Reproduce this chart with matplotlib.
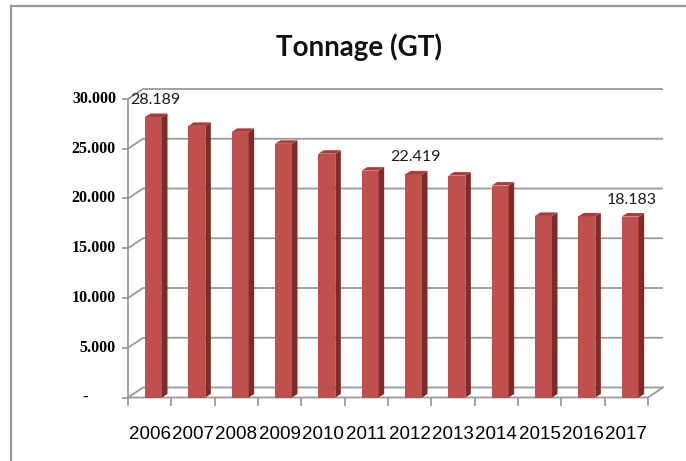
import matplotlib
matplotlib.use('Agg')
import matplotlib.pyplot as plt
from matplotlib.patches import Polygon
from matplotlib.lines import Line2D

# ---- data ----
years = ['2006', '2007', '2008', '2009', '2010', '2011',
         '2012', '2013', '2014', '2015', '2016', '2017']
tonnage = [28189, 27300, 26700, 25500, 24500, 22800,
           22419, 22300, 21300, 18250, 18200, 18183]
yticks = [0, 5000, 10000, 15000, 20000, 25000, 30000]
ytick_labels = ['-', '5.000', '10.000', '15.000', '20.000', '25.000', '30.000']
data_labels = {0: '28.189', 6: '22.419', 11: '18.183'}
title = 'Tonnage (GT)'

# ---- layout (pixels) ----
W, H = 686, 461
fig = plt.figure(figsize=(W / 100, H / 100), dpi=100)
fig.patch.set_facecolor('white')
L, R, B, T = 128, 648, 397.5, 99
ax = fig.add_axes([L / W, 1 - B / H, (R - L) / W, (B - T) / H])
n = len(years)
ax.set_xlim(0, n)
ax.set_ylim(0, yticks[-1])
ax.axis('off')

sx = n / (R - L)            # data units per pixel (x)
sy = yticks[-1] / (B - T)   # data units per pixel (y)
DX, DY = 15 * sx, 10 * sy   # wall depth

grid_c = '#9a9a9a'
lw = 1.3
# back wall gridlines + side wall diagonals
for v in yticks:
    ax.plot([0, DX, n + DX], [v, v + DY, v + DY], color=grid_c, lw=lw,
            clip_on=False, solid_capstyle='butt')
    ax.plot([-5 * sx, 0], [v, v], color=grid_c, lw=lw, clip_on=False)
# front vertical axis
ax.plot([0, 0], [0, yticks[-1]], color=grid_c, lw=lw, clip_on=False)
# floor front edge + right edge
ax.plot([0, n, n + DX], [0, 0, DY], color=grid_c, lw=lw, clip_on=False)
# x ticks
for i in range(n + 1):
    ax.plot([i, i], [0, -7 * sy], color=grid_c, lw=lw, clip_on=False)

# ---- 3D bars ----
front_c = '#C0504D'
side_c = '#7E2B29'
top_c = '#A3403D'
bw = 17 * sx
off = 17 * sx
bx, by = 5.5 * sx, 3.5 * sy
xs = [i + off for i in range(n)]
ax.bar(xs, tonnage, width=bw, align='edge', color=front_c, zorder=3,
       linewidth=0)
for x, v in zip(xs, tonnage):
    side = Polygon([(x + bw, 0), (x + bw + bx, by), (x + bw + bx, v + by),
                    (x + bw, v)], closed=True, facecolor=side_c,
                   edgecolor='none', zorder=3, clip_on=False)
    top = Polygon([(x, v), (x + bw, v), (x + bw + bx, v + by), (x + bx, v + by)],
                  closed=True, facecolor=top_c, edgecolor='none', zorder=3,
                  clip_on=False)
    ax.add_patch(side)
    ax.add_patch(top)

# data labels
for i, lab in data_labels.items():
    ax.text(xs[i] + bw / 2 + 2 * sx, tonnage[i] + 17 * sy, lab,
            ha='center', va='center', fontsize=11.5, family=['Lato', 'DejaVu Sans'],
            color='#1a1a1a', zorder=5, clip_on=False)

# y tick labels
for v, lab in zip(yticks, ytick_labels):
    if lab == '-':
        ax.text(-43 * sx, v, lab, ha='center', va='center', fontsize=12,
                family=['Liberation Serif', 'DejaVu Serif'], color='#000000',
                fontweight='bold')
    else:
        ax.text(-12 * sx, v, lab, ha='right', va='center', fontsize=11.5,
                family=['Liberation Serif', 'DejaVu Serif'], color='#000000',
                fontweight='bold')

# x tick labels
for i, lab in enumerate(years):
    ax.text(i + 0.5, -36.5 * sy, lab, ha='center', va='center', fontsize=13.5,
            family=['Liberation Sans', 'DejaVu Sans'], color='#000000')

# title
fig.text(359 / W, 1 - 47 / H, title, ha='center', va='center', fontsize=20,
         fontweight='bold', family=['Lato', 'DejaVu Sans'], color='#111111')

# outer chart border (left and top visible)
fig.add_artist(Line2D([10.5 / W, 10.5 / W], [0, 1 - 6.5 / H],
                      transform=fig.transFigure, color='#9a9a9a', lw=1.6))
fig.add_artist(Line2D([10.5 / W, 1], [1 - 6.5 / H, 1 - 6.5 / H],
                      transform=fig.transFigure, color='#9a9a9a', lw=1.6))

fig.savefig('out.png', dpi=100, facecolor='white')
